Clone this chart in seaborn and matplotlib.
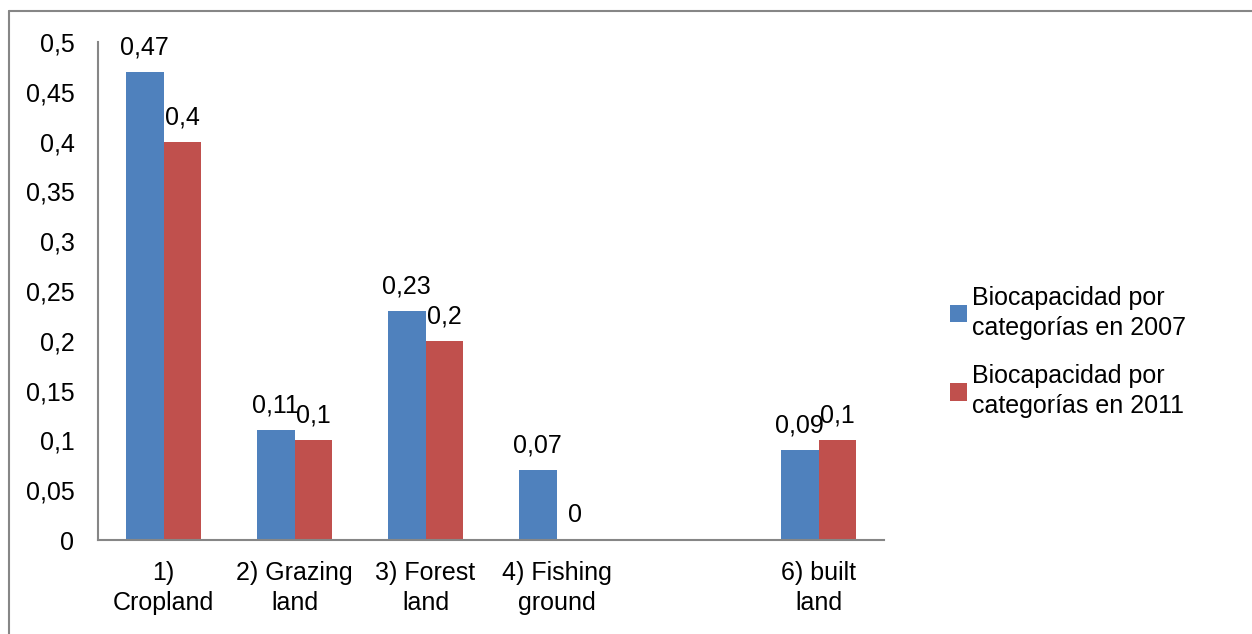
import numpy as np
import pandas as pd
import seaborn as sns
import matplotlib.pyplot as plt
from matplotlib.lines import Line2D

# data
categories = ["1)\nCropland", "2) Grazing\nland", "3) Forest\nland", "4) Fishing\nground", "", "6) built\nland"]
values_2007 = [0.47, 0.11, 0.23, 0.07, np.nan, 0.09]
values_2011 = [0.40, 0.10, 0.20, 0.00, np.nan, 0.10]
series_names = ["Biocapacidad por\ncategorías en 2007", "Biocapacidad por\ncategorías en 2011"]
y_ticks = [0, 0.05, 0.1, 0.15, 0.2, 0.25, 0.3, 0.35, 0.4, 0.45, 0.5]

df = pd.DataFrame({
    "Categoria": categories * 2,
    "Serie": [series_names[0]] * len(categories) + [series_names[1]] * len(categories),
    "Valor": values_2007 + values_2011,
})


def comma(v):
    return f"{v:g}".replace(".", ",")


FS = 18

sns.set_style("white")
plt.rcParams["font.family"] = ["Liberation Sans", "DejaVu Sans"]
plt.rcParams["font.size"] = FS
plt.rcParams["text.color"] = "black"

fig = plt.figure(figsize=(12.52, 6.34), dpi=100)
ax = fig.add_axes([98 / 1252, 94 / 634, 786 / 1252, 498 / 634])

sns.barplot(data=df, x="Categoria", y="Valor", hue="Serie", order=categories,
            hue_order=series_names, palette=["#4F81BD", "#C0504D"],
            width=0.57, gap=0, saturation=1, ax=ax, errorbar=None, linewidth=0)

for container in ax.containers:
    ax.bar_label(container, fmt=comma, padding=9, fontsize=FS, color="black")

ax.set_ylim(0, 0.5)
ax.set_xlim(-0.5, len(categories) - 0.5)
ax.set_yticks(y_ticks)
ax.set_yticklabels([comma(t) for t in y_ticks])
ax.set_xlabel("")
ax.set_ylabel("")
ax.tick_params(axis="both", length=0, labelsize=FS, labelcolor="black")
ax.tick_params(axis="y", pad=17)
ax.tick_params(axis="x", pad=15)
for lbl in ax.get_xticklabels():
    lbl.set_linespacing(1.32)

for side in ["top", "right"]:
    ax.spines[side].set_visible(False)
for side in ["left", "bottom"]:
    ax.spines[side].set_color("#868686")
    ax.spines[side].set_linewidth(1.5)

handles, labels = ax.get_legend_handles_labels()
leg = ax.legend(handles, labels, loc="center left", bbox_to_anchor=(927 / 1252, 282 / 634),
                bbox_transform=fig.transFigure, frameon=False, fontsize=FS,
                handlelength=0.7, handleheight=0.7, handletextpad=0.2, labelspacing=1.0)
for t in leg.get_texts():
    t.set_linespacing(1.3)
    t.set_color("black")

# outer chart border (top and left edges visible in the reference)
fig.add_artist(Line2D([8.5 / 1252, 8.5 / 1252], [0, 623 / 634], transform=fig.transFigure,
                      color="#868686", linewidth=1.5))
fig.add_artist(Line2D([8.5 / 1252, 1], [623 / 634, 623 / 634], transform=fig.transFigure,
                      color="#868686", linewidth=1.5))

fig.savefig("out.png", dpi=100)
